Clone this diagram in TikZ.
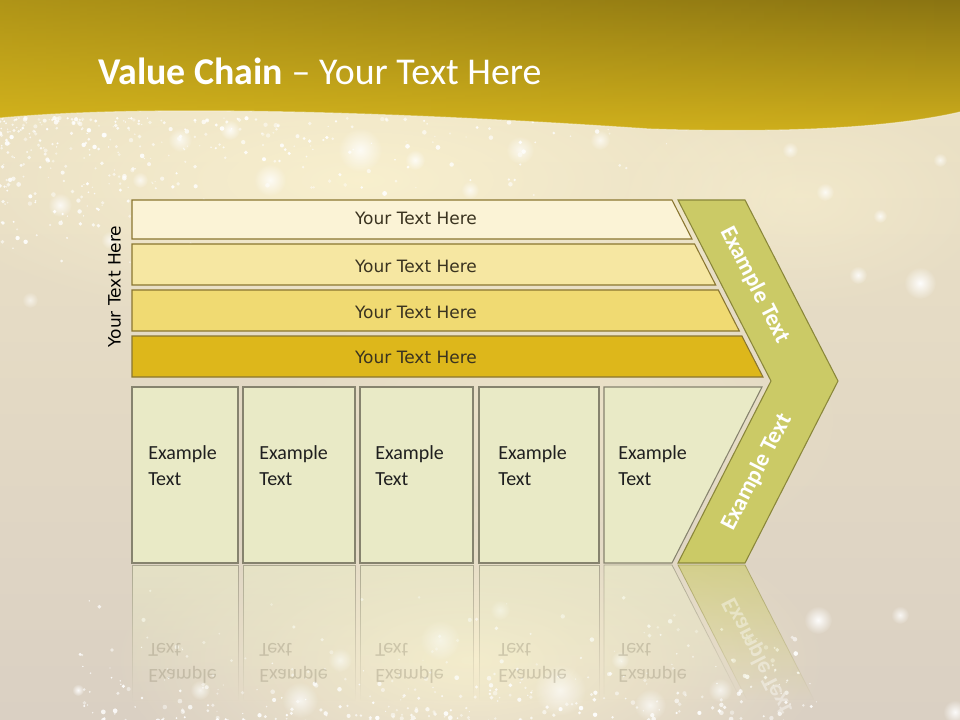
\documentclass[tikz,border=0pt]{standalone}
\usepackage{fontspec}
\setmainfont{Carlito}
\newfontfamily\barfont{DejaVu Sans}
\usetikzlibrary{fadings}
\definecolor{hdtop}{HTML}{8A7412}
\definecolor{hdbot}{HTML}{CFAF1C}
\definecolor{hdleft}{HTML}{DDBC1E}
\definecolor{bgtop}{HTML}{EEE4C6}
\definecolor{bgbot}{HTML}{DAD0C3}
\definecolor{cream}{HTML}{FFF7D2}
\definecolor{barA}{HTML}{FBF3D6}
\definecolor{barB}{HTML}{F6E7A2}
\definecolor{barC}{HTML}{F0DA72}
\definecolor{barD}{HTML}{DDB71B}
\definecolor{barline}{HTML}{8A7630}
\definecolor{bartext}{HTML}{3A3320}
\definecolor{boxfill}{HTML}{E9EAC6}
\definecolor{boxline}{HTML}{86836E}
\definecolor{chevfill}{HTML}{CBCA66}
\definecolor{chevline}{HTML}{8A873A}
\definecolor{reflgray}{HTML}{8F8770}
\tikzfading[name=reflfade, top color=transparent!40, bottom color=transparent!100]
\tikzfading[name=glowfade, inner color=transparent!0, outer color=transparent!100]
\tikzfading[name=fadeleft, left color=transparent!0, right color=transparent!100]
\begin{document}
\begin{tikzpicture}[x=0.75pt,y=-0.75pt,
  bar/.style={fill=#1, draw=barline, line width=0.8pt},
  bartxt/.style={font=\barfont\fontsize{12.75}{15}\selectfont, text=bartext, anchor=base, inner sep=0pt},
  boxshape/.style={fill=boxfill, draw=boxline, line width=0.8pt},
  boxtxt/.style={font=\fontsize{15}{19.5}\selectfont, text=black!88, anchor=base west, inner sep=0pt},
  chevshape/.style={fill=chevfill, draw=chevline, line width=0.8pt},
  chevtxt/.style={font=\bfseries\fontsize{17.5}{20}\selectfont, text=white, inner sep=0pt},
  reflbox/.style={fill=boxfill, draw=boxline, line width=0.6pt, path fading=reflfade},
  refltxt/.style={boxtxt, text=reflgray, opacity=0.35, yscale=-1},
  glow/.style={white, path fading=glowfade}]
\useasboundingbox (0,0) rectangle (960,720);

% ---------- background ----------
\shade[top color=bgtop, bottom color=bgbot] (0,0) rectangle (960,720);
\fill[cream, opacity=0.7, path fading=glowfade] (360,180) ellipse (460 and 150);
\fill[cream, opacity=0.75, path fading=glowfade] (470,660) ellipse (360 and 160);
\fill[cream, opacity=0.35, path fading=glowfade] (560,420) ellipse (300 and 160);
\fill[cream, opacity=0.4, path fading=glowfade] (800,200) ellipse (200 and 110);

% sparkles (upper band)
\pgfmathsetseed{4242}
\foreach \i in {1,...,380}{
  \pgfmathsetmacro\sx{rnd*rnd*720}
  \pgfmathsetmacro\sy{118+rnd*rnd*160}
  \pgfmathsetmacro\sr{0.6+rnd*1.8}
  \pgfmathsetmacro\so{0.4+rnd*0.55}
  \fill[white, opacity=\so] (\sx,\sy) circle (\sr);
}
% sparkles (lower band)
\foreach \i in {1,...,340}{
  \pgfmathsetmacro\sx{80+rnd*740}
  \pgfmathsetmacro\sy{722-rnd*rnd*140}
  \pgfmathsetmacro\sr{0.6+rnd*1.8}
  \pgfmathsetmacro\so{0.4+rnd*0.55}
  \fill[white, opacity=\so] (\sx,\sy) circle (\sr);
}
% soft glows
\foreach \gx/\gy/\gr/\go in {920/283/16/0.95, 858/275/9/0.85, 825/192/9/0.8, 880/216/7/0.8, 940/160/7/0.7,
  790/150/8/0.7, 818/620/14/0.95, 900/615/9/0.8, 955/712/12/0.9, 360/150/22/0.8, 270/180/16/0.8,
  60/205/12/0.8, 520/150/14/0.7, 180/140/12/0.7, 440/640/20/0.7, 560/690/26/0.7, 300/700/18/0.7,
  650/705/16/0.7, 78/690/6/0.9, 415/160/10/0.8, 110/240/9/0.7, 30/300/8/0.6, 230/130/10/0.8,
  470/190/9/0.7, 600/140/10/0.7, 140/180/8/0.7, 340/660/12/0.7, 500/610/10/0.7, 720/690/12/0.7,
  200/690/10/0.7, 620/660/9/0.7}{
  \fill[glow, opacity=\go] (\gx,\gy) circle (\gr);
}

% ---------- header ----------
\shade[top color=hdtop, bottom color=hdbot]
  (0,0) -- (960,0) -- (960,112) .. controls (900,126) and (800,134) .. (650,129)
  .. controls (400,112) and (150,104) .. (0,118) -- cycle;
\fill[hdleft, opacity=0.45, path fading=fadeleft]
  (0,0) -- (960,0) -- (960,112) .. controls (900,126) and (800,134) .. (650,129)
  .. controls (400,112) and (150,104) .. (0,118) -- cycle;
\draw[white, opacity=0.45, line width=0.8pt]
  (960,112) .. controls (900,126) and (800,134) .. (650,129)
  .. controls (400,112) and (150,104) .. (0,118);
\node[anchor=base west, inner sep=0pt, text=white, font=\fontsize{28.4}{32}\selectfont] (title) at (98,84.5)
  {\textbf{Value Chain} – Your Text Here};

% ---------- reflection ----------
\path[reflbox] (132,565) rectangle (238,700);
\path[reflbox] (243,565) rectangle (355,700);
\path[reflbox] (360,565) rectangle (473,700);
\path[reflbox] (479,565) rectangle (599,700);
\path[reflbox] (604,565) -- (672,565) -- (741,700) -- (604,700) -- cycle;
\path[fill=chevfill, draw=chevline, line width=0.6pt, path fading=reflfade]
  (678,565) -- (745,565) -- (814,700) -- (747,700) -- cycle;
\foreach \tx [count=\k] in {148,259,375,498,618}{
  \node[refltxt] (rex\k) at (\tx,669) {Example};
  \node[refltxt] (ret\k) at (\tx,643) {Text};
}
\node[chevtxt, opacity=0.4, rotate=-62.8, yscale=-1] (rchev) at (758,656) {Example Text};

% ---------- bars ----------
\path[bar=barA] (132,200) -- (672,200) -- (692,239) -- (132,239) -- cycle;
\path[bar=barB] (132,244) -- (694.6,244) -- (715.7,285) -- (132,285) -- cycle;
\path[bar=barC] (132,290) -- (718.3,290) -- (739.3,331) -- (132,331) -- cycle;
\path[bar=barD] (132,336) -- (741.9,336) -- (763,377) -- (132,377) -- cycle;
\node[bartxt] (bt1) at (416,225) {Your Text Here};
\node[bartxt] (bt2) at (416,272.5) {Your Text Here};
\node[bartxt] (bt3) at (416,318) {Your Text Here};
\node[bartxt] (bt4) at (416,363) {Your Text Here};
\node[bartxt, text=black, rotate=90] (side) at (120.5,286.5) {Your Text Here};

% ---------- chevron ----------
\path[chevshape] (678,200) -- (745,200) -- (838,381) -- (745,563) -- (678,563) -- (771,381) -- cycle;
\node[chevtxt, rotate=-62.8] (ch1) at (755,285) {Example Text};
\node[chevtxt, rotate=62.8] (ch2) at (757,472) {Example Text};

% ---------- boxes ----------
\path[boxshape] (132,387) rectangle (238,563);
\path[boxshape] (243,387) rectangle (355,563);
\path[boxshape] (360,387) rectangle (473,563);
\path[boxshape] (479,387) rectangle (599,563);
\path[boxshape] (604,387) -- (762,387) -- (672,563) -- (604,563) -- cycle;
\foreach \tx [count=\k] in {148,259,375,498,618}{
  \node[boxtxt] (ex\k) at (\tx,459) {Example};
  \node[boxtxt] (et\k) at (\tx,485) {Text};
}
\end{tikzpicture}
\end{document}
